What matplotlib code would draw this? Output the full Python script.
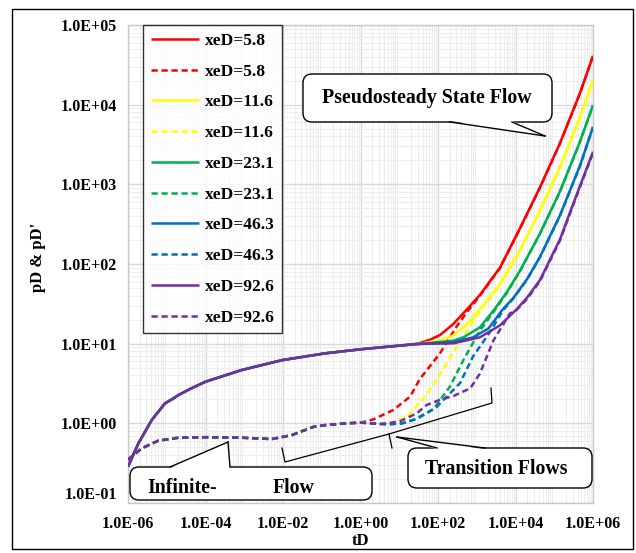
import matplotlib
matplotlib.use('Agg')
import matplotlib.pyplot as plt
from matplotlib.patches import FancyBboxPatch, Polygon, Rectangle
from matplotlib.lines import Line2D
from matplotlib.transforms import IdentityTransform
from matplotlib.ticker import LogLocator, FuncFormatter, NullFormatter

# ---------------- data ----------------
labels = ["xeD=5.8", "xeD=11.6", "xeD=23.1", "xeD=46.3", "xeD=92.6"]
colors = ["#ff0000", "#ffff00", "#00b050", "#0070c0", "#7030a0"]

# common early-time pD (all xeD overlap)
t_pd_early = [1e-6, 1.85e-6, 4.1e-6, 9e-6, 1.4e-5, 2e-5, 4e-5, 1e-4, 8.6e-4, 9.3e-3, 0.12, 1.0, 10.0]
pd_early = [0.285, 0.56, 1.1, 1.78, 2.02, 2.26, 2.7, 3.33, 4.67, 6.2, 7.55, 8.5, 9.45]

# common early-time pD' (all xeD overlap)
t_dpd_early = [1e-6, 2.25e-6, 6e-6, 2e-5, 1e-4, 8.6e-4, 5.1e-3, 0.0166, 0.06, 0.12, 0.44, 1.0]
dpd_early = [0.35, 0.485, 0.605, 0.66, 0.67, 0.66, 0.635, 0.71, 0.9, 0.95, 1.0, 1.02]

# late-time pD per xeD
t_pd_58 = [30, 62, 112, 244, 560, 1210, 3980, 13000, 42900, 1.41e5, 4.62e5, 1e6]
pd_58 = [10.0, 11.2, 12.8, 17.5, 27, 41, 90, 280, 920, 3300, 14000, 41000]
t_pd_116 = [30, 112, 244, 560, 1450, 3980, 13000, 42900, 1.41e5, 4.62e5, 1e6]
pd_116 = [9.9, 11.0, 12.6, 17.5, 30, 56, 150, 470, 1650, 7000, 20300]
t_pd_231 = [30, 250, 450, 1200, 2700, 5900, 13000, 42900, 1.41e5, 4.62e5, 1e6]
pd_231 = [9.9, 10.9, 12.0, 16.0, 26, 44, 82, 242, 820, 3450, 9860]
t_pd_463 = [30, 250, 800, 2000, 4700, 9000, 20000, 42900, 1.41e5, 4.62e5, 1e6]
pd_463 = [9.9, 10.5, 12.0, 15.5, 27, 38, 65, 123, 410, 1720, 5260]
t_pd_926 = [30, 250, 1200, 4000, 10700, 20000, 42900, 1.41e5, 3.1e5, 1e6]
pd_926 = [9.9, 10.1, 12.0, 17.0, 27, 38, 63, 205, 575, 2560]

# late-time pD' per xeD
t_dpd_58 = [2.14, 7, 19, 34, 112, 300, 560, 1210, 3980, 13000, 42900, 1.41e5, 4.62e5, 1e6]
dpd_58 = [1.12, 1.47, 2.16, 3.6, 7.55, 16.3, 25, 40, 89, 277, 910, 3270, 13900, 40600]
t_dpd_116 = [2.0, 4.7, 15.5, 23, 50, 92, 300, 800, 1450, 3980, 13000, 42900, 1.41e5, 4.62e5, 1e6]
dpd_116 = [1.0, 0.96, 1.21, 1.47, 2.3, 3.5, 9.1, 19, 29, 55, 148, 465, 1630, 6930, 20100]
t_dpd_231 = [2.0, 5, 12, 23, 76, 204, 450, 1200, 2700, 5900, 13000, 42900, 1.41e5, 4.62e5, 1e6]
dpd_231 = [1.0, 0.97, 1.0, 1.1, 1.5, 2.9, 6.2, 14.5, 25, 43, 81, 240, 810, 3420, 9760]
t_dpd_463 = [2.0, 5, 12, 30, 92, 370, 800, 2200, 4700, 9000, 20000, 42900, 1.41e5, 4.62e5, 1e6]
dpd_463 = [1.0, 0.97, 1.0, 1.15, 1.6, 3.2, 6.9, 14, 26, 37.5, 64, 122, 405, 1700, 5200]
t_dpd_926 = [3.2, 10, 28, 51, 120, 248, 680, 1200, 2700, 7200, 10700, 20000, 42900, 1.41e5, 3.1e5, 1e6]
dpd_926 = [0.98, 1.05, 1.33, 1.7, 2.0, 2.2, 2.75, 4.2, 11, 24, 26.5, 36.5, 61, 198, 555, 2480]

pd_late = [(t_pd_58, pd_58), (t_pd_116, pd_116), (t_pd_231, pd_231),
           (t_pd_463, pd_463), (t_pd_926, pd_926)]
dpd_late = [(t_dpd_58, dpd_58), (t_dpd_116, dpd_116), (t_dpd_231, dpd_231),
            (t_dpd_463, dpd_463), (t_dpd_926, dpd_926)]

# ---------------- figure ----------------
plt.rcParams['font.family'] = ['Liberation Serif', 'DejaVu Serif']
plt.rcParams['font.weight'] = 'bold'

W, H = 636, 553
fig = plt.figure(figsize=(W / 100, H / 100), dpi=100)
ax = fig.add_axes([128 / W, 1 - 503 / H, (593 - 128) / W, (503 - 25) / H])
ax.set_xscale('log')
ax.set_yscale('log')
ax.set_xlim(1e-6, 1e6)
ax.set_ylim(1e-1, 1e5)

lw = 1.8
handles = []
for i in range(5):
    ts, vs = pd_late[i]
    l1, = ax.plot(t_pd_early + ts, pd_early + vs, color=colors[i], lw=lw,
                  solid_capstyle='butt', solid_joinstyle='round', label=labels[i], zorder=3)
    td, vd = dpd_late[i]
    l2, = ax.plot(t_dpd_early + td, dpd_early + vd, color=colors[i], lw=lw,
                  dashes=(2.5, 1.5), label=labels[i], zorder=3)
    handles += [l1, l2]

ax.xaxis.set_minor_locator(LogLocator(base=10, subs=range(2, 10), numticks=200))
ax.yaxis.set_minor_locator(LogLocator(base=10, subs=range(2, 10), numticks=200))
ax.xaxis.set_minor_formatter(NullFormatter())
ax.yaxis.set_minor_formatter(NullFormatter())
ax.set_xticks([10.0 ** k for k in range(-6, 7, 2)])
ax.set_yticks([10.0 ** k for k in range(-1, 6)])
fmt = FuncFormatter(lambda v, p: f"{v:.1E}")
ax.xaxis.set_major_formatter(fmt)
ax.yaxis.set_major_formatter(fmt)
ax.set_xlim(1e-6, 1e6)
ax.set_ylim(1e-1, 1e5)
ax.grid(which='major', color='#d9d9d9', lw=1.0, zorder=0)
ax.grid(which='minor', color='#ededed', lw=0.8, zorder=0)
ax.set_axisbelow(True)
ax.tick_params(which='both', length=0)
ax.tick_params(axis='y', labelsize=11.5, pad=8)
ax.tick_params(axis='x', labelsize=11.5, pad=9)
ax.yaxis.get_major_ticks()[0].label1.set_verticalalignment('bottom')
for s in ax.spines.values():
    s.set_color('#c8c8c8')
    s.set_linewidth(1.0)

fig.text(38 / W, 1 - 257 / H, "pD & pD'", rotation=90, ha='center', va='center',
         fontsize=12, fontweight='bold')
fig.text(361 / W, 1 - 541 / H, "tD", ha='center', va='center',
         fontsize=12, fontweight='bold')

leg = ax.legend(handles=handles, loc='upper left', bbox_to_anchor=(0.032, 1.0),
                borderaxespad=0, frameon=True, fancybox=False,
                handlelength=2.8, handletextpad=0.3, labelspacing=0.84,
                borderpad=0.45, prop={'family': 'Liberation Serif', 'weight': 'bold', 'size': 12.5})
leg.get_frame().set_edgecolor('black')
leg.get_frame().set_linewidth(1.0)
leg.set_zorder(10)

# ---------------- callouts (pixel coordinates from top-left) ----------------
T = IdentityTransform()


def P(x, y):
    return (x, H - y)


def callout(x0, y0, x1, y1, base_a, base_b, tip):
    box = FancyBboxPatch(P(x0, y1), x1 - x0, y1 - y0,
                         boxstyle="round,pad=0,rounding_size=9",
                         transform=T, facecolor='white', edgecolor='black',
                         lw=1.0, zorder=20)
    fig.patches.append(box)
    yb = base_a[1]
    inner = 1.2 if tip[1] > yb else -1.2
    poly = Polygon([P(base_a[0], yb - inner), P(tip[0], tip[1]), P(base_b[0], yb - inner)],
                   closed=True, transform=T, facecolor='white', edgecolor='none', zorder=21)
    fig.patches.append(poly)
    for b in (base_a, base_b):
        fig.lines.append(Line2D([P(*b)[0], P(*tip)[0]], [P(*b)[1], P(*tip)[1]],
                                transform=T, color='black', lw=1.0, zorder=22))


callout(303, 74, 552, 122, (450, 122), (512, 122), (545, 136))
fig.text(427 / W, 1 - 98 / H, "Pseudosteady State Flow", ha='center', va='center',
         fontsize=14.3, fontweight='bold', zorder=30)

callout(408, 448, 592, 488, (437, 448), (485, 448), (397, 437))
fig.text(496 / W, 1 - 469 / H, "Transition Flows", ha='center', va='center',
         fontsize=14.3, fontweight='bold', zorder=30)

callout(130, 467, 372, 500, (170, 467), (230, 467), (228, 442))
fig.text(147 / W, 1 - 488 / H, "Infinite-", ha='left', va='center',
         fontsize=14.3, fontweight='bold', zorder=30)
fig.text(273 / W, 1 - 488 / H, "Flow", ha='left', va='center',
         fontsize=14.3, fontweight='bold', zorder=30)

# brace for the transition region
brace1 = [(282, 448), (285, 462), (389, 434), (392, 448)]
brace2 = [(389, 434), (492, 403), (491, 388)]
for br in (brace1, brace2):
    xs = [P(*p)[0] for p in br]
    ys = [P(*p)[1] for p in br]
    fig.lines.append(Line2D(xs, ys, transform=T, color='black', lw=0.9, zorder=8))

# figure border
fig.patches.append(Rectangle(P(12, 549), 633 - 12, 549 - 9, transform=T,
                             fill=False, edgecolor='black', lw=1.0, zorder=40))

fig.savefig('out.png', dpi=100)
